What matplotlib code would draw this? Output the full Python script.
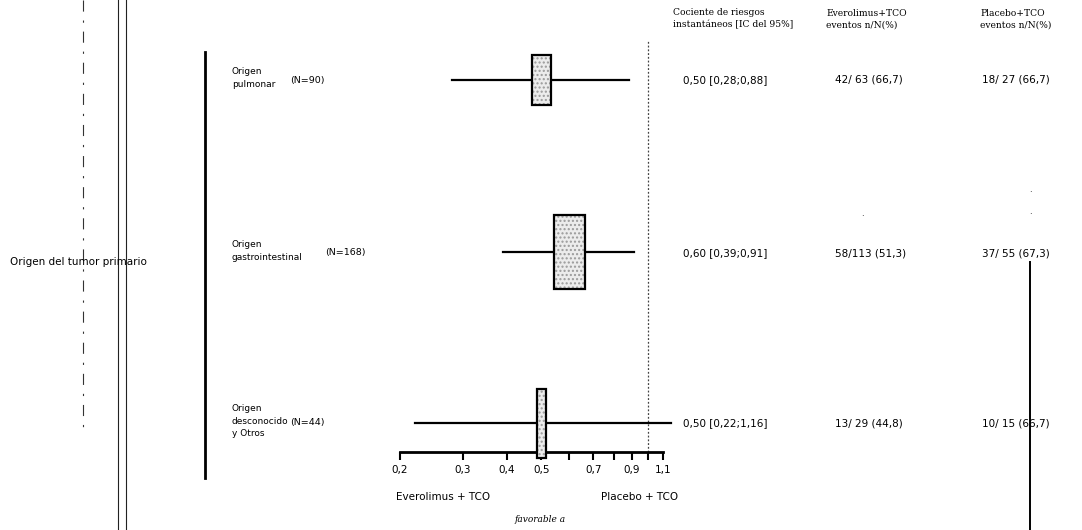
import numpy as np
import matplotlib
matplotlib.use('Agg')
from matplotlib import pyplot as plt
from matplotlib.patches import Rectangle

# forest plot data
subgroups = ['Origen\npulmonar', 'Origen\ngastrointestinal', 'Origen\ndesconocido\ny Otros']
n_labels = ['(N=90)', '(N=168)', '(N=44)']
hr = [0.50, 0.60, 0.50]
ci_low = [0.28, 0.39, 0.22]
ci_high = [0.88, 0.91, 1.16]
hr_text = ['0,50 [0,28;0,88]', '0,60 [0,39;0,91]', '0,50 [0,22;1,16]']
evero_text = ['42/ 63 (66,7)', '58/113 (51,3)', '13/ 29 (44,8)']
placebo_text = ['18/ 27 (66,7)', '37/ 55 (67,3)', '10/ 15 (66,7)']
ticks = [0.2, 0.3, 0.4, 0.5, 0.6, 0.7, 0.8, 0.9, 1.0, 1.1]
tick_labels = ['0,2', '0,3', '0,4', '0,5', '', '0,7', '', '0,9', '', '1,1']

W, H = 1082, 530
fig = plt.figure(figsize=(W / 100, H / 100), dpi=100)
fig.patch.set_facecolor('white')


def px(x, y):
    return x / W, 1 - y / H


# forest axes: x 400..663 px, y 40..452 px
ax = fig.add_axes([400 / W, 1 - 452 / H, 263 / W, 412 / H])
ax.set_xscale('log')
ax.set_xlim(0.2, 1.1)
ax.set_ylim(2 + 29 / 171.5, -40 / 171.5)
ax.patch.set_alpha(0)
for s in ['top', 'right', 'left']:
    ax.spines[s].set_visible(False)
ax.spines['bottom'].set_linewidth(2)
ax.set_yticks([])
ax.xaxis.set_minor_locator(matplotlib.ticker.NullLocator())
ax.set_xticks(ticks)
ax.set_xticklabels(tick_labels, fontsize=7.5)
ax.tick_params(axis='x', direction='out', length=6, width=1.5, pad=3)

ax.axvline(1.0, color='#444444', lw=0.9, ls=(0, (1.5, 1.5)))

# box sizes in pixels (width, height)
box_px = [(19, 50), (31, 74), (9, 69)]
logpx = np.log(1.1 / 0.2) / 263
for i in range(3):
    ax.plot([ci_low[i], ci_high[i]], [i, i], color='black', lw=1.6,
            clip_on=False, zorder=2)
    bw, bh = box_px[i]
    x0 = hr[i] * np.exp(-bw / 2 * logpx)
    x1 = hr[i] * np.exp(bw / 2 * logpx)
    h = bh / 171.5
    # stippled fill, then black outline
    ax.add_patch(Rectangle((x0, i - h / 2), x1 - x0, h, facecolor='#ececec',
                           edgecolor='#9a9a9a', lw=0, hatch='....',
                           zorder=3, clip_on=False))
    ax.add_patch(Rectangle((x0, i - h / 2), x1 - x0, h, facecolor='none',
                           edgecolor='black', lw=1.6, zorder=4, clip_on=False))

# left bar
fig.add_artist(plt.Line2D([205 / W, 205 / W], [1 - 52 / H, 1 - 478 / H],
                          color='black', lw=2))
# scan artifact lines
fig.add_artist(plt.Line2D([83 / W, 83 / W], [1, 1 - 430 / H], color='#333333',
                          lw=0.8, ls=(0, (10, 8, 2, 8))))
fig.add_artist(plt.Line2D([118 / W, 118 / W], [1, 0], color='#222222', lw=0.8))
fig.add_artist(plt.Line2D([126 / W, 126 / W], [1, 0], color='#222222', lw=0.8))
fig.add_artist(plt.Line2D([1030 / W, 1030 / W], [1 - 262 / H, 0], color='black', lw=1.4))
for (x, y) in [(1030, 190), (1030, 212), (862, 213)]:
    fig.text(*px(x, y), '.', fontsize=6, ha='center', va='center')

fs = 7.5
fig.text(*px(10, 262), 'Origen del tumor primario', fontsize=fs, va='center')

row_y = [80, 253, 423]
n_x = [290, 325, 290]
for i in range(3):
    y = row_y[i]
    fig.text(*px(232, y - 2), subgroups[i], fontsize=6.5, va='center',
             linespacing=1.5)
    fig.text(*px(n_x[i], y), n_labels[i], fontsize=6.8, va='center')
    fig.text(*px(683, y), hr_text[i], fontsize=fs, va='center')
    fig.text(*px(835, y), evero_text[i], fontsize=fs, va='center')
    fig.text(*px(982, y), placebo_text[i], fontsize=fs, va='center')

hfs = 6.6
fig.text(*px(673, 19), 'Cociente de riesgos\ninstantáneos [IC del 95%]',
         fontsize=hfs, family='DejaVu Serif', va='center', linespacing=1.4)
fig.text(*px(826, 19), 'Everolimus+TCO\neventos n/N(%)',
         fontsize=hfs, family='DejaVu Serif', va='center', linespacing=1.4)
fig.text(*px(980, 19), 'Placebo+TCO\neventos n/N(%)',
         fontsize=hfs, family='DejaVu Serif', va='center', linespacing=1.4)

fig.text(*px(443, 497), 'Everolimus + TCO', fontsize=fs, ha='center', va='center')
fig.text(*px(640, 497), 'Placebo + TCO', fontsize=fs, ha='center', va='center')
fig.text(*px(540, 520), 'favorable a', fontsize=fs - 1, ha='center', va='center',
         family='DejaVu Serif', style='italic')

fig.savefig('out.png', dpi=100, facecolor='white')
